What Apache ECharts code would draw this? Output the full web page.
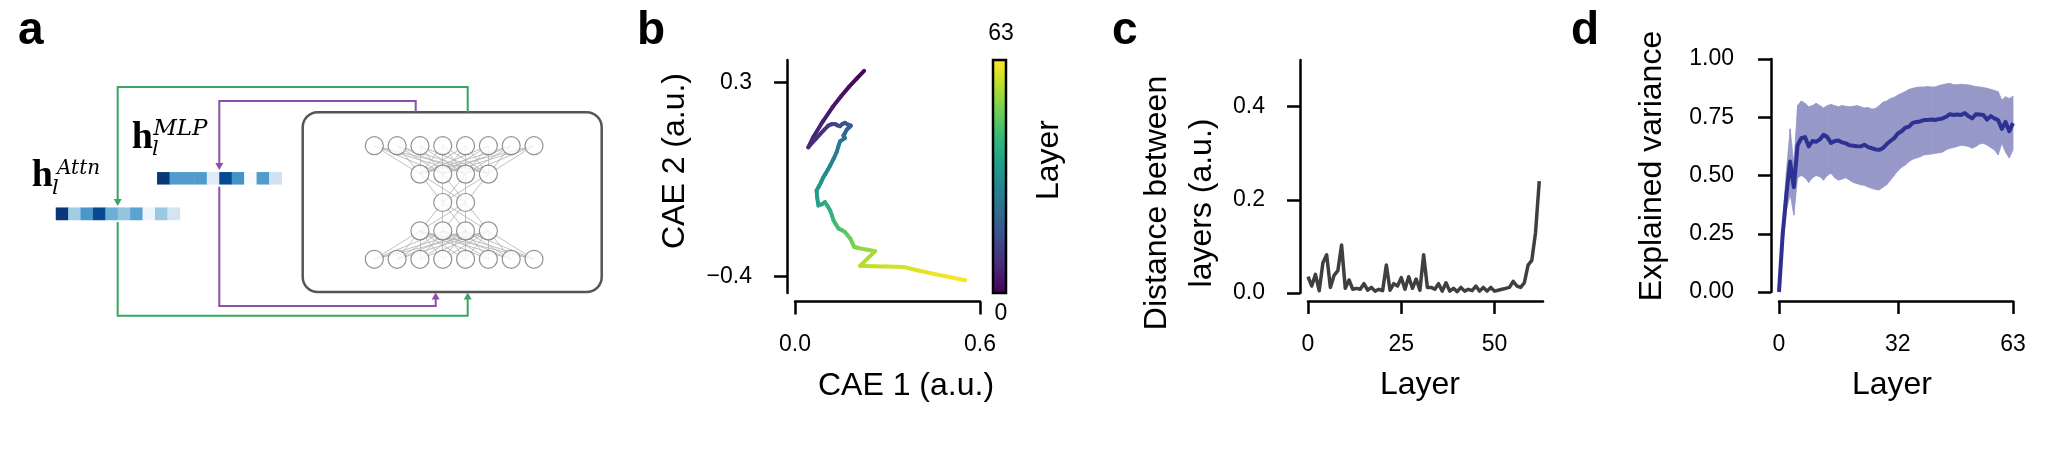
<!DOCTYPE html>
<html><head><meta charset="utf-8">
<script src="https://cdn.jsdelivr.net/npm/echarts@6/dist/echarts.min.js"></script>
<style>html,body{margin:0;padding:0;background:#fff}#c{width:2048px;height:452px}</style>
</head><body><div id="c"></div>
<script>
// ---------- data ----------
// panel b: CAE trajectory, one point per layer (0..63)
const cae1 = [0.224,0.200,0.175,0.150,0.122,0.090,0.060,0.043,0.068,0.092,0.108,0.118,0.130,0.138,0.146,0.152,0.162,0.170,0.181,0.175,0.168,0.162,0.157,0.162,0.146,0.140,0.135,0.125,0.114,0.106,0.098,0.092,0.085,0.078,0.070,0.072,0.076,0.088,0.097,0.106,0.114,0.120,0.125,0.133,0.141,0.152,0.162,0.170,0.179,0.186,0.192,0.200,0.211,0.235,0.260,0.235,0.211,0.250,0.300,0.352,0.400,0.450,0.500,0.552];
const cae2 = [0.343,0.315,0.285,0.252,0.212,0.160,0.105,0.067,0.098,0.127,0.145,0.150,0.151,0.146,0.143,0.150,0.155,0.150,0.145,0.138,0.131,0.118,0.109,0.100,0.088,0.068,0.049,0.025,0.001,-0.015,-0.030,-0.041,-0.058,-0.073,-0.089,-0.115,-0.143,-0.138,-0.131,-0.146,-0.161,-0.180,-0.197,-0.212,-0.226,-0.232,-0.239,-0.250,-0.262,-0.278,-0.293,-0.295,-0.298,-0.303,-0.308,-0.335,-0.361,-0.362,-0.363,-0.365,-0.378,-0.390,-0.401,-0.413];
const bXTicks = [0, 0.6];
const bYTicks = [-0.4, 0.3];
const layerMin = 0, layerMax = 63;

// panel c: distance between consecutive layers
const distValues = [0.035,0.015,0.04,0.005,0.065,0.082,0.012,0.038,0.048,0.103,
  0.01,0.028,0.008,0.01,0.008,0.02,0.006,0.012,0.004,0.008,
  0.005,0.06,0.006,0.02,0.015,0.033,0.008,0.035,0.01,0.03,
  0.006,0.082,0.012,0.012,0.008,0.02,0.004,0.022,0.004,0.01,
  0.003,0.012,0.004,0.008,0.005,0.015,0.004,0.012,0.004,0.012,
  0.004,0.006,0.008,0.01,0.012,0.025,0.015,0.012,0.022,0.06,
  0.07,0.13,0.24];
const cXTicks = [0, 25, 50];
const cYTicks = [0, 0.2, 0.4];

// panel d: explained variance per layer
const evMean = [0.00,0.25,0.42,0.56,0.45,0.63,0.66,0.665,0.625,0.648,
  0.645,0.655,0.675,0.665,0.64,0.648,0.65,0.642,0.638,0.63,
  0.628,0.626,0.625,0.632,0.622,0.617,0.612,0.61,0.618,0.635,
  0.648,0.66,0.68,0.69,0.705,0.71,0.726,0.73,0.732,0.738,
  0.738,0.74,0.738,0.742,0.745,0.752,0.763,0.76,0.762,0.76,
  0.768,0.755,0.745,0.763,0.762,0.76,0.74,0.755,0.745,0.738,
  0.70,0.73,0.69,0.725];
const evUpper = [0.00,0.30,0.52,0.70,0.55,0.80,0.82,0.81,0.795,0.80,
  0.81,0.80,0.79,0.80,0.805,0.80,0.795,0.80,0.797,0.795,
  0.797,0.80,0.795,0.79,0.792,0.785,0.788,0.80,0.815,0.82,
  0.83,0.835,0.845,0.853,0.86,0.87,0.874,0.878,0.88,0.88,
  0.882,0.88,0.88,0.885,0.89,0.893,0.896,0.89,0.889,0.892,
  0.89,0.889,0.885,0.882,0.88,0.878,0.874,0.87,0.865,0.86,
  0.824,0.838,0.83,0.84];
const evLower = [0.00,0.20,0.35,0.42,0.33,0.49,0.50,0.49,0.47,0.49,
  0.50,0.495,0.48,0.50,0.51,0.49,0.48,0.485,0.49,0.48,
  0.47,0.465,0.46,0.458,0.45,0.445,0.44,0.438,0.45,0.46,
  0.48,0.50,0.52,0.535,0.545,0.56,0.57,0.575,0.58,0.588,
  0.59,0.592,0.595,0.597,0.60,0.61,0.617,0.62,0.625,0.63,
  0.628,0.625,0.617,0.625,0.635,0.638,0.631,0.62,0.61,0.588,
  0.638,0.60,0.575,0.61];
const dXTicks = [0, 32, 63];

// panel a: schematic hidden-state vectors and network layer sizes
const attnVec = [0.97,0.36,0.6,0.9,0.5,0.4,0.55,0.05,0.38,0.18];
const mlpVec  = [0.97,0.58,0.58,0.58,0.12,0.9,0.62,0.0,0.58,0.2];
const netLayers = [8,4,2,4,8];

// ---------- styles ----------
const FONT = '"Liberation Sans", Arial, Helvetica, sans-serif';
const viridis = ['#440154','#482878','#3e4989','#31688e','#26828e','#1f9e89','#35b779','#6ece58','#b5de2b','#fde725'];
const blues = ['#f7fbff','#deebf7','#c6dbef','#9ecae1','#6baed6','#4292c6','#2171b5','#08519c','#08306b'];
const GREEN = '#37a660', PURPLE = '#8c4fab';
const BAND = '#9698c8', MEAN = '#2e3192';

function valAxis(o) {
  const base = {
    type: 'value', splitLine: {show: false},
    axisLine: {show: true, onZero: false, lineStyle: {color: '#000', width: 2.5}},
    axisTick: {show: true, length: 13, lineStyle: {color: '#000', width: 2.5}, customValues: o.ticks},
    axisLabel: {color: '#000', fontSize: 23, fontFamily: FONT, margin: o.margin, customValues: o.ticks, formatter: o.fmt}
  };
  delete o.ticks; delete o.margin; delete o.fmt;
  return Object.assign(base, o);
}
const hidden = (o) => Object.assign({show: false, splitLine: {show: false}}, o);
const fmtSigned = (d) => (v) => (v < 0 ? '\u2212' + Math.abs(v).toFixed(d) : v.toFixed(d));

// ---------- derived tables ----------
const bSegments = [];
for (let i = 0; i < cae1.length - 1; i++) {
  bSegments.push([cae1[i], cae2[i], i + 0.5, cae1[i + 1], cae2[i + 1]]);
}
const cData = distValues.map((v, i) => [i, v]);
const dMean = evMean.map((v, i) => [i, v]);
const dBandSegs = [];
for (let i = 0; i < evMean.length - 1; i++) {
  dBandSegs.push([i, evLower[i], evUpper[i], i + 1, evLower[i + 1], evUpper[i + 1]]);
}
const attnData = attnVec.map((v, i) => [i, 0, v]);
const mlpData = mlpVec.map((v, i) => [i, 0, v]);
const cells = attnVec.map((_, i) => String(i));

const netW = Math.max(...netLayers) - 1;
const nodes = [], edges = [];
netLayers.forEach((n, r) => {
  for (let k = 0; k < n; k++) nodes.push([(netW - (n - 1)) / 2 + k, r]);
});
for (let r = 0; r < netLayers.length - 1; r++) {
  const a = netLayers[r], b = netLayers[r + 1];
  for (let i = 0; i < a; i++) for (let j = 0; j < b; j++) {
    edges.push({coords: [[(netW - (a - 1)) / 2 + i, r], [(netW - (b - 1)) / 2 + j, r + 1]]});
  }
}

// ---------- graphic (schematic + texts) ----------
function T(x, y, s, o) {
  o = o || {};
  return {type: 'text', x: x, y: y, rotation: o.rot || 0, z: 100,
    style: {text: s, fill: '#000', fontSize: o.size || 32, fontFamily: o.family || FONT,
      fontWeight: o.weight || 'normal', fontStyle: o.style || 'normal',
      align: o.align || 'center', verticalAlign: 'middle'}};
}
function poly(pts, color) {
  return {type: 'polyline', z: 50, shape: {points: pts}, style: {stroke: color, lineWidth: 2, fill: null}};
}
function tri(x, y, dir, color) {
  const s = dir === 'down' ? -1 : 1;
  return {type: 'polygon', z: 51, shape: {points: [[x - 4, y + 7 * s], [x + 4, y + 7 * s], [x, y]]}, style: {fill: color}};
}
const graphics = [
  // panel letters
  T(18, 31, 'a', {size: 46, weight: 'bold', align: 'left'}),
  T(637, 31, 'b', {size: 46, weight: 'bold', align: 'left'}),
  T(1112, 31, 'c', {size: 46, weight: 'bold', align: 'left'}),
  T(1571, 31, 'd', {size: 46, weight: 'bold', align: 'left'}),
  // schematic box
  {type: 'rect', z: 40, shape: {x: 302.7, y: 112.3, width: 299, height: 179.7, r: 15}, style: {stroke: '#555', lineWidth: 2.5, fill: null}},
  // green loop
  poly([[467.7, 112.3], [467.7, 87], [117.7, 87], [117.7, 200]], GREEN),
  tri(117.7, 206, 'down', GREEN),
  poly([[117.7, 222], [117.7, 315.7], [467.7, 315.7], [467.7, 298]], GREEN),
  tri(467.7, 292.5, 'up', GREEN),
  // purple loop
  poly([[415.7, 112.3], [415.7, 101], [219.3, 101], [219.3, 164]], PURPLE),
  tri(219.3, 170, 'down', PURPLE),
  poly([[219.3, 186.7], [219.3, 306], [435.7, 306], [435.7, 298]], PURPLE),
  tri(435.7, 292.5, 'up', PURPLE),
  // math labels
  T(31.7, 176.5, 'h', {size: 38, weight: 'bold', family: '"Liberation Serif", serif', align: 'left'}),
  T(57, 168.5, 'Attn', {size: 20, style: 'italic', family: '"DejaVu Serif", serif', align: 'left'}),
  T(52, 188.5, 'l', {size: 21, style: 'italic', family: '"DejaVu Serif", serif', align: 'left'}),
  T(131.7, 138.5, 'h', {size: 38, weight: 'bold', family: '"Liberation Serif", serif', align: 'left'}),
  T(153.3, 129.5, 'MLP', {size: 23, style: 'italic', family: '"DejaVu Serif", serif', align: 'left'}),
  T(152, 149.5, 'l', {size: 21, style: 'italic', family: '"DejaVu Serif", serif', align: 'left'}),
  // panel b titles
  T(675, 161, 'CAE 2 (a.u.)', {rot: Math.PI / 2}),
  T(906, 386, 'CAE 1 (a.u.)'),
  T(1049, 160, 'Layer', {rot: Math.PI / 2}),
  T(1001, 34, String(layerMax), {size: 23}),
  T(1001, 314, String(layerMin), {size: 23}),
  {type: 'rect', z: 100, shape: {x: 993, y: 60, width: 13, height: 233}, style: {stroke: '#000', lineWidth: 2.5, fill: null}},
  // panel c titles
  T(1157, 203, 'Distance between', {rot: Math.PI / 2}),
  T(1202, 203, 'layers (a.u.)', {rot: Math.PI / 2}),
  T(1420, 385, 'Layer'),
  // panel d titles
  T(1652, 166, 'Explained variance', {rot: Math.PI / 2}),
  T(1892, 385, 'Layer')
];

// ---------- chart ----------
const chart = echarts.init(document.getElementById('c'), null, {renderer: 'canvas'});
chart.setOption({
  animation: false,
  backgroundColor: '#fff',
  textStyle: {fontFamily: FONT},
  grid: [
    {left: 795, top: 60, width: 185, height: 233},          // b
    {left: 1308, top: 60, width: 235, height: 233},         // c
    {left: 1779, top: 59, width: 234, height: 233},         // d
    {left: 56, top: 207.7, width: 124, height: 12.3},       // attn vector
    {left: 157.3, top: 172.3, width: 124.4, height: 12},    // mlp vector
    {left: 374.3, top: 145.7, width: 159.7, height: 113.6}  // network
  ],
  xAxis: [
    valAxis({gridIndex: 0, min: 0, max: 0.6, offset: 8.5, ticks: bXTicks, margin: 32, fmt: fmtSigned(1)}),
    valAxis({gridIndex: 1, min: 0, max: 63, offset: 8, ticks: cXTicks, margin: 32, fmt: (v) => String(v)}),
    valAxis({gridIndex: 2, min: 0, max: 63, offset: 9, ticks: dXTicks, margin: 32, fmt: (v) => String(v)}),
    hidden({gridIndex: 3, type: 'category', data: cells}),
    hidden({gridIndex: 4, type: 'category', data: cells}),
    hidden({gridIndex: 5, type: 'value', min: 0, max: netW})
  ],
  yAxis: [
    valAxis({gridIndex: 0, min: -0.459, max: 0.382, offset: 8, ticks: bYTicks, margin: 35, fmt: fmtSigned(1)}),
    valAxis({gridIndex: 1, min: 0, max: 0.5, offset: 8, ticks: cYTicks, margin: 35, fmt: (v) => v.toFixed(1)}),
    valAxis({gridIndex: 2, min: 0, max: 1, interval: 0.25, offset: 8, margin: 37, fmt: (v) => v.toFixed(2)}),
    hidden({gridIndex: 3, type: 'category', data: ['0']}),
    hidden({gridIndex: 4, type: 'category', data: ['0']}),
    hidden({gridIndex: 5, type: 'value', min: 0, max: netLayers.length - 1, inverse: true})
  ],
  visualMap: [
    {type: 'continuous', seriesIndex: 0, dimension: 2, min: layerMin, max: layerMax,
      inRange: {color: viridis}, orient: 'vertical', left: 993, top: 60,
      itemWidth: 13, itemHeight: 233, padding: 0, calculable: false, hoverLink: false, text: null},
    {type: 'continuous', show: false, seriesIndex: [4, 5], dimension: 2, min: 0, max: 1, inRange: {color: blues}}
  ],
  series: [
    {type: 'custom', xAxisIndex: 0, yAxisIndex: 0, data: bSegments, clip: false,
      encode: {x: [0, 3], y: [1, 4]},
      renderItem: function (params, api) {
        const p1 = api.coord([api.value(0), api.value(1)]);
        const p2 = api.coord([api.value(3), api.value(4)]);
        return {type: 'line', shape: {x1: p1[0], y1: p1[1], x2: p2[0], y2: p2[1]},
          style: {stroke: api.visual('color'), lineWidth: 4, lineCap: 'round'}};
      }},
    {type: 'line', xAxisIndex: 1, yAxisIndex: 1, data: cData, showSymbol: false, symbol: 'none',
      lineStyle: {color: '#3f3f3f', width: 3.5, join: 'round'}},
    {type: 'custom', xAxisIndex: 2, yAxisIndex: 2, data: dBandSegs, clip: false, z: 2,
      encode: {x: [0, 3], y: [1, 2, 4, 5]},
      renderItem: function (params, api) {
        const a = api.coord([api.value(0), api.value(1)]);
        const b = api.coord([api.value(3), api.value(4)]);
        const c = api.coord([api.value(3), api.value(5)]);
        const d = api.coord([api.value(0), api.value(2)]);
        return {type: 'polygon', shape: {points: [a, b, c, d]},
          style: {fill: BAND, stroke: BAND, lineWidth: 0.8}};
      }},
    {type: 'line', xAxisIndex: 2, yAxisIndex: 2, data: dMean, showSymbol: false, symbol: 'none', z: 5,
      lineStyle: {color: MEAN, width: 4, join: 'round'}},
    {type: 'heatmap', xAxisIndex: 3, yAxisIndex: 3, data: attnData},
    {type: 'heatmap', xAxisIndex: 4, yAxisIndex: 4, data: mlpData},
    {type: 'lines', coordinateSystem: 'cartesian2d', xAxisIndex: 5, yAxisIndex: 5, data: edges, z: 2,
      lineStyle: {color: '#b0b0b0', width: 0.8, opacity: 1}},
    {type: 'scatter', xAxisIndex: 5, yAxisIndex: 5, data: nodes, symbol: 'circle', symbolSize: 18, z: 3,
      itemStyle: {color: '#fff', borderColor: '#777', borderWidth: 1.2}}
  ],
  graphic: graphics
});
</script></body></html>
